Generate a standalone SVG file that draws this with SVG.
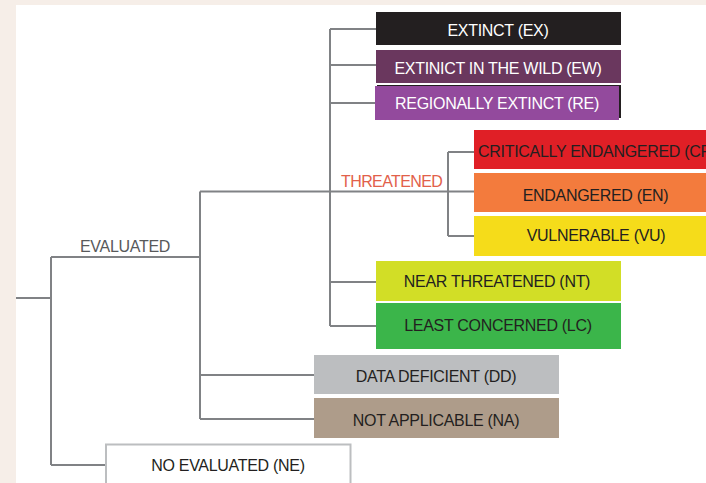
<svg xmlns="http://www.w3.org/2000/svg" width="706" height="483" viewBox="0 0 706 483">
  <style>
    .ln { stroke: #808285; stroke-width: 2; fill: none; }
    .lbl { font-family: "Liberation Sans", Arial, sans-serif; font-size: 16px; letter-spacing: -0.3px; text-anchor: middle; fill: #231f20; }
    .lt { fill: #ffffff; }
    .branch { font-family: "Liberation Sans", Arial, sans-serif; font-size: 16px; letter-spacing: -0.3px; }
  </style>
  <!-- page background -->
  <rect x="0" y="0" width="706" height="483" fill="#f6eee8"/>
  <rect x="16" y="5" width="690" height="478" fill="#ffffff"/>

  <g id="connectors">
    <path class="ln" d="M16 298 H51 M51 257 V465 M51 257 H200 M51 465 H106"/>
    <path class="ln" d="M200 191.5 V419 M200 191.5 H474 M200 375 H314 M200 419 H314"/>
    <path class="ln" d="M330 29 V326 M330 29 H376 M330 65 H376 M330 103 H376 M330 282 H376 M330 326 H376"/>
    <path class="ln" d="M448 152 V236 M448 152 H474 M448 236 H474"/>
    <text class="branch" x="80" y="251.5" fill="#58595b">EVALUATED</text>
    <text class="branch" x="341" y="187" fill="#e2604a" style="letter-spacing:-0.6px">THREATENED</text>
  </g>

  <g id="ex">
    <rect x="376" y="12" width="245" height="33" fill="#231f20"/>
    <text class="lbl lt" x="498" y="36">EXTINCT (EX)</text>
  </g>
  <g id="ew">
    <rect x="376" y="50" width="245" height="33" fill="#6a375e"/>
    <text class="lbl lt" x="498" y="73.5">EXTINICT IN THE WILD (EW)</text>
  </g>
  <g id="re">
    <rect x="377" y="85" width="244" height="33" fill="#231f20"/>
    <rect x="375" y="86" width="244" height="34" fill="#934a9d"/>
    <text class="lbl lt" x="497" y="109">REGIONALLY EXTINCT (RE)</text>
  </g>
  <g id="cr">
    <rect x="474" y="130" width="240" height="39" fill="#e01f26"/>
    <text class="lbl" x="478" y="156.5" style="text-anchor:start">CRITICALLY ENDANGERED (CR)</text>
  </g>
  <g id="en">
    <rect x="474" y="173" width="240" height="39" fill="#f37b3d"/>
    <text class="lbl" x="595.5" y="200.5">ENDANGERED (EN)</text>
  </g>
  <g id="vu">
    <rect x="474" y="216" width="240" height="40" fill="#f5dc1a"/>
    <text class="lbl" x="596" y="241">VULNERABLE (VU)</text>
  </g>
  <g id="nt">
    <rect x="376" y="261" width="245" height="40" fill="#d2de26"/>
    <text class="lbl" x="497" y="287">NEAR THREATENED (NT)</text>
  </g>
  <g id="lc">
    <rect x="376" y="303" width="245" height="46" fill="#3bb54a"/>
    <text class="lbl" x="498" y="330.5">LEAST CONCERNED (LC)</text>
  </g>
  <g id="dd">
    <rect x="314" y="355" width="245" height="39" fill="#bcbec0"/>
    <text class="lbl" x="436" y="381.5">DATA DEFICIENT (DD)</text>
  </g>
  <g id="na">
    <rect x="314" y="398" width="245" height="40" fill="#ae9c8a"/>
    <text class="lbl" x="436" y="425.5">NOT APPLICABLE (NA)</text>
  </g>
  <g id="ne">
    <rect x="106" y="444.5" width="244.5" height="45" fill="#ffffff" stroke="#bcbec0" stroke-width="2"/>
    <text class="lbl" x="228" y="470.5">NO EVALUATED (NE)</text>
  </g>
</svg>
